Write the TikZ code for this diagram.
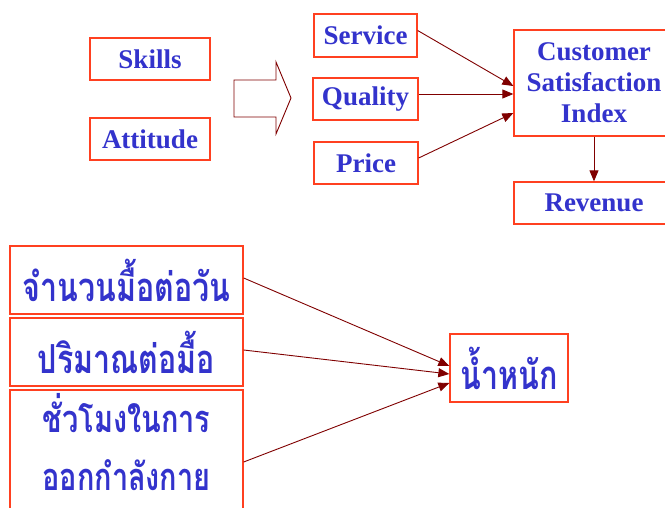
\documentclass[tikz,border=0pt]{standalone}
\usepackage{fontspec}
\setmainfont{Liberation Serif}
\newfontfamily\thaifont[Script=Thai,FakeStretch=0.76]{Loma}
\usetikzlibrary{arrows.meta,calc}
\definecolor{txtblue}{RGB}{51,51,204}
\definecolor{boxred}{RGB}{255,64,32}
\definecolor{arrred}{RGB}{128,0,0}
\tikzset{
  box/.style={draw=boxred,line width=1.3pt,fill=white,inner sep=0pt,align=center,
    text=txtblue,font=\fontsize{27}{31}\selectfont\bfseries},
  thbox/.style={box,font=\thaifont\bfseries\fontsize{40}{55}\selectfont},
  thtext/.style={inner sep=0pt,align=center,text=txtblue,font=\thaifont\bfseries\fontsize{38}{58}\selectfont},
  conn/.style={draw=arrred,line width=0.9pt,-{Triangle[length=11pt,width=9pt]}},
}
\begin{document}
\begin{tikzpicture}[x=1pt,y=-1pt]
\clip (0,0) rectangle (665,508);
\fill[white] (0,0) rectangle (665,508);
% top part
\node[box,minimum width=120pt,minimum height=42pt] (skills) at (150,59) {Skills};
\node[box,minimum width=120pt,minimum height=42pt] (attitude) at (150,139) {Attitude};
\draw[arrred,line width=0.9pt] (234,80) -- (276,80) -- (276,62) -- (291,98) -- (276,134) -- (276,117) -- (234,117) -- cycle;
\node[box,minimum width=103pt,minimum height=43pt] (service) at (365.5,35.5) {Service};
\node[box,minimum width=105pt,minimum height=42pt] (quality) at (365.5,99) {Quality};
\node[box,minimum width=104pt,minimum height=42pt] (price) at (366,163) {Price};
\node[box,minimum width=160pt,minimum height=106pt] (csi) at (594,83) {Customer\\Satisfaction\\Index};
\node[box,minimum width=160pt,minimum height=42pt] (revenue) at (594,203) {Revenue};
\draw[conn] ($(service.east)+(0,-5)$) -- ($(csi.west)+(0,3)$);
\draw[conn] ($(quality.east)+(0,-5)$) -- ($(csi.west)+(0,11)$);
\draw[conn] ($(price.east)+(0,-5)$) -- ($(csi.west)+(0,30)$);
\draw[conn] (csi.south) -- (revenue.north);
% bottom part
\node[thbox,minimum width=233pt,minimum height=68pt] (meals) at (126.5,280) {จำนวนมื้อต่อวัน};
\node[thbox,minimum width=233pt,minimum height=68pt] (amount) at (126.5,352) {ปริมาณต่อมื้อ};
\node[thbox,minimum width=233pt,minimum height=140pt] (hours) at (126.5,460) {};
\node[thtext] (hourstext) at (126.5,442) {ชั่วโมงในการ\\ออกกำลังกาย};
\node[thbox,minimum width=118pt,minimum height=68pt] (weight) at (509,368) {น้ำหนัก};
\draw[conn] ($(meals.east)+(0,-2)$) -- ($(weight.west)+(0,-2)$);
\draw[conn] ($(amount.east)+(0,-2)$) -- ($(weight.west)+(0,6)$);
\draw[conn] ($(hours.east)+(0,2)$) -- ($(weight.west)+(0,15)$);
\end{tikzpicture}
\end{document}
